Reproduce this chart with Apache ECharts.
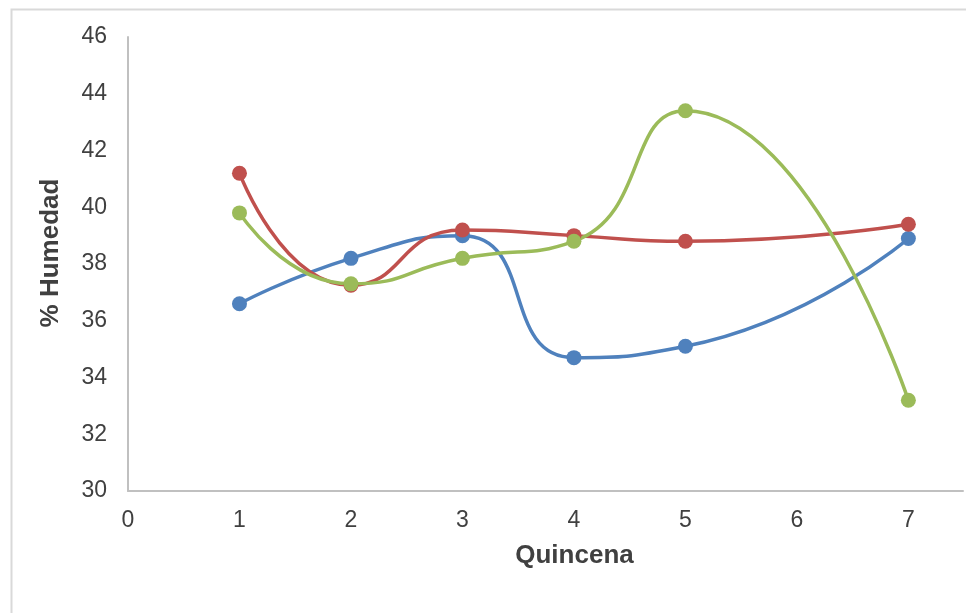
<!DOCTYPE html>
<html>
<head>
<meta charset="utf-8">
<script src="https://cdn.jsdelivr.net/npm/echarts@6/dist/echarts.min.js"></script>
<style>
html,body{margin:0;padding:0;background:#fff;}
#chart{width:966px;height:613px;}
</style>
</head>
<body>
<div id="chart"></div>
<script>
var quincenas = [1, 2, 3, 4, 5, 7];
var serieAzul = [36.6, 38.2, 39.0, 34.7, 35.1, 38.9];
var serieRoja = [41.2, 37.25, 39.2, 39.0, 38.8, 39.4];
var serieVerde = [39.8, 37.3, 38.2, 38.8, 43.4, 33.2];
var yTitle = '% Humedad';
var xTitle = 'Quincena';

function pairs(xs, ys) { return xs.map(function (x, i) { return [x, ys[i]]; }); }

var font = 'Liberation Sans, Arial, sans-serif';
function mk(name, color, vals) {
  return {
    name: name, type: 'line', data: pairs(quincenas, vals),
    smooth: 0.55, symbol: 'circle', symbolSize: 15,
    lineStyle: { color: color, width: 3.5 },
    itemStyle: { color: color },
    emphasis: { disabled: true }
  };
}

var chart = echarts.init(document.getElementById('chart'), null, { renderer: 'canvas' });
chart.setOption({
  animation: false,
  backgroundColor: '#fff',
  graphic: [{
    type: 'rect', left: 9, top: 7,
    shape: { width: 1000, height: 700 },
    style: { fill: 'none', stroke: '#D9D9D9', lineWidth: 2 },
    z: -1
  }],
  grid: { left: 128, right: 0, top: 37, bottom: 122 },
  xAxis: {
    type: 'value', min: 0, max: 7.49, interval: 1,
    name: xTitle, nameLocation: 'middle', nameGap: 52,
    nameTextStyle: { fontFamily: font, fontSize: 26, fontWeight: 'bold', color: '#404040', padding: [0, 0, 0, 58] },
    axisLine: { show: true, lineStyle: { color: '#C0C0C0', width: 2 } },
    axisTick: { show: false },
    splitLine: { show: false },
    axisLabel: {
      fontFamily: font, fontSize: 23, color: '#404040', margin: 18,
      formatter: function (v) { return Math.abs(v - Math.round(v)) < 1e-6 ? String(Math.round(v)) : ''; }
    }
  },
  yAxis: {
    type: 'value', min: 30, max: 46, interval: 2,
    name: yTitle, nameLocation: 'middle', nameGap: 64,
    nameTextStyle: { fontFamily: font, fontSize: 26, fontWeight: 'bold', color: '#404040', padding: [0, 0, 0, 22] },
    axisLine: { show: true, lineStyle: { color: '#C0C0C0', width: 2 } },
    axisTick: { show: false },
    splitLine: { show: false },
    axisLabel: { fontFamily: font, fontSize: 23, color: '#404040', margin: 21 }
  },
  series: [
    mk('Serie 1', '#4F81BD', serieAzul),
    mk('Serie 2', '#C0504D', serieRoja),
    mk('Serie 3', '#9BBB59', serieVerde)
  ]
});
</script>
</body>
</html>
